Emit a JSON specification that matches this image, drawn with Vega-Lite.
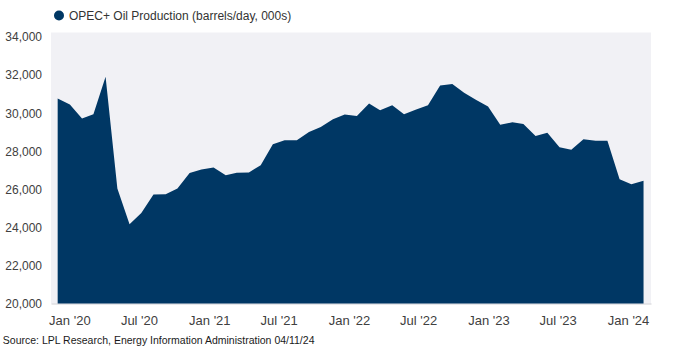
{
  "$schema": "https://vega.github.io/schema/vega-lite/v6.json",
  "width": 600,
  "height": 271,
  "autosize": {"type": "none"},
  "padding": {"left": 51, "top": 32.5, "right": 22, "bottom": 54.5},
  "background": "white",
  "config": {"view": {"fill": "#f1f1f5", "stroke": null}, "font": "Liberation Sans"},
  "data": {"values": [
    {"date": "2019-12-01", "value": 30765},
    {"date": "2020-01-01", "value": 30450},
    {"date": "2020-02-01", "value": 29714},
    {"date": "2020-03-01", "value": 29940},
    {"date": "2020-04-01", "value": 31900},
    {"date": "2020-05-01", "value": 26038},
    {"date": "2020-06-01", "value": 24163},
    {"date": "2020-07-01", "value": 24756},
    {"date": "2020-08-01", "value": 25723},
    {"date": "2020-09-01", "value": 25740},
    {"date": "2020-10-01", "value": 26038},
    {"date": "2020-11-01", "value": 26857},
    {"date": "2020-12-01", "value": 27036},
    {"date": "2021-01-01", "value": 27146},
    {"date": "2021-02-01", "value": 26736},
    {"date": "2021-03-01", "value": 26868},
    {"date": "2021-04-01", "value": 26878},
    {"date": "2021-05-01", "value": 27262},
    {"date": "2021-06-01", "value": 28364},
    {"date": "2021-07-01", "value": 28575},
    {"date": "2021-08-01", "value": 28575},
    {"date": "2021-09-01", "value": 29011},
    {"date": "2021-10-01", "value": 29273},
    {"date": "2021-11-01", "value": 29678},
    {"date": "2021-12-01", "value": 29924},
    {"date": "2022-01-01", "value": 29851},
    {"date": "2022-02-01", "value": 30502},
    {"date": "2022-03-01", "value": 30150},
    {"date": "2022-04-01", "value": 30413},
    {"date": "2022-05-01", "value": 29940},
    {"date": "2022-06-01", "value": 30187},
    {"date": "2022-07-01", "value": 30413},
    {"date": "2022-08-01", "value": 31450},
    {"date": "2022-09-01", "value": 31520},
    {"date": "2022-10-01", "value": 31060},
    {"date": "2022-11-01", "value": 30690},
    {"date": "2022-12-01", "value": 30340},
    {"date": "2023-01-01", "value": 29380},
    {"date": "2023-02-01", "value": 29520},
    {"date": "2023-03-01", "value": 29430},
    {"date": "2023-04-01", "value": 28800},
    {"date": "2023-05-01", "value": 28970},
    {"date": "2023-06-01", "value": 28210},
    {"date": "2023-07-01", "value": 28070},
    {"date": "2023-08-01", "value": 28630},
    {"date": "2023-09-01", "value": 28540},
    {"date": "2023-10-01", "value": 28540},
    {"date": "2023-11-01", "value": 26530},
    {"date": "2023-12-01", "value": 26260},
    {"date": "2024-01-01", "value": 26440}
  ]},
  "layer": [
    {
      "mark": {"type": "area", "color": "#003764"},
      "encoding": {
        "x": {
          "field": "date", "type": "temporal",
          "scale": {"type": "utc", "domain": [{"year": 2019, "month": 11, "date": 14, "utc": true}, {"year": 2024, "month": 1, "date": 20, "utc": true}]},
          "axis": null
        },
        "y": {
          "field": "value", "type": "quantitative",
          "scale": {"domain": [20000, 34230], "nice": false, "zero": false},
          "axis": {
            "values": [20000, 22000, 24000, 26000, 28000, 30000, 32000, 34000],
            "format": ",.0f", "labelFontSize": 12, "labelColor": "#404040",
            "ticks": false, "domain": false, "grid": false, "labelPadding": 9.5, "title": null
          }
        },
        "y2": {"datum": 20000},
        "color": {
          "datum": "OPEC+ Oil Production (barrels/day, 000s)", "type": "nominal",
          "scale": {"range": ["#003764"]},
          "legend": {
            "orient": "none", "legendX": 2, "legendY": -23, "title": null,
            "symbolType": "circle", "symbolSize": 100, "labelFontSize": 12,
            "labelColor": "#333333", "labelOffset": 4, "padding": 0, "labelLimit": 500
          }
        }
      }
    },
    {
      "mark": {"type": "point", "opacity": 0},
      "encoding": {
        "x": {
          "field": "date", "type": "temporal",
          "scale": {"type": "utc", "domain": [{"year": 2019, "month": 11, "date": 14, "utc": true}, {"year": 2024, "month": 3, "date": 1, "utc": true}]},
          "axis": {
            "orient": "bottom",
            "values": [
              {"year": 2020, "month": 1, "date": 1, "utc": true},
              {"year": 2020, "month": 7, "date": 1, "utc": true},
              {"year": 2021, "month": 1, "date": 1, "utc": true},
              {"year": 2021, "month": 7, "date": 1, "utc": true},
              {"year": 2022, "month": 1, "date": 1, "utc": true},
              {"year": 2022, "month": 7, "date": 1, "utc": true},
              {"year": 2023, "month": 1, "date": 1, "utc": true},
              {"year": 2023, "month": 7, "date": 1, "utc": true},
              {"year": 2024, "month": 1, "date": 1, "utc": true}
            ],
            "format": "%b '%y", "labelFontSize": 13, "labelColor": "#404040",
            "ticks": false, "domainColor": "#cfcfd4", "labelPadding": 11,
            "labelOverlap": false, "labelFlush": false,
            "grid": false, "title": null
          }
        }
      }
    }
  ],
  "resolve": {"scale": {"x": "independent"}, "axis": {"x": "independent"}},
  "title": {
    "text": "Source: LPL Research, Energy Information Administration 04/11/24",
    "orient": "bottom", "anchor": "start", "frame": "bounds",
    "fontSize": 10.5, "fontWeight": "normal", "color": "#1a1a1a", "offset": 8, "dx": -2
  }
}
